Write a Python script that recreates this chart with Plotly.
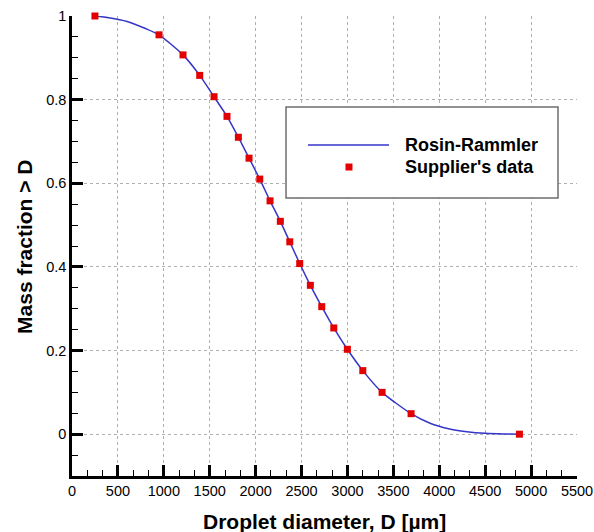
import plotly.graph_objects as go

# Supplier's measured droplet size distribution
diameter_data = [250, 948, 1209, 1391, 1547, 1688, 1812, 1928, 2045, 2157, 2269,
                 2372, 2480, 2596, 2720, 2851, 2999, 3167, 3377, 3693, 4873]
fraction_data = [1.000, 0.955, 0.907, 0.858, 0.807, 0.760, 0.710, 0.660, 0.610, 0.558, 0.509,
                 0.460, 0.408, 0.356, 0.305, 0.254, 0.203, 0.152, 0.100, 0.049, 0.000]

# Rosin-Rammler fitted curve
diameter_fit = [250, 400, 600, 800, 948, 1209, 1391, 1547, 1688, 1812, 1928, 2045, 2157,
                2269, 2372, 2480, 2596, 2720, 2851, 2999, 3167, 3377, 3693, 3900, 4100,
                4300, 4500, 4700, 4873]
fraction_fit = [1.000, 0.996, 0.987, 0.970, 0.955, 0.907, 0.858, 0.807, 0.760, 0.710, 0.660,
                0.610, 0.558, 0.509, 0.460, 0.408, 0.356, 0.305, 0.254, 0.203, 0.152, 0.100,
                0.049, 0.026, 0.013, 0.006, 0.002, 0.0005, 0.000]

x_ticks = list(range(0, 5501, 500))
y_ticks = [0, 0.2, 0.4, 0.6, 0.8, 1.0]

FONT = "Liberation Sans, Arial, sans-serif"
LINE_COLOR = "#3535c8"
MARKER_COLOR = "#e20000"

fig = go.Figure()
fig.add_trace(go.Scatter(
    x=diameter_fit, y=fraction_fit, mode="lines", name="Rosin-Rammler",
    line=dict(color=LINE_COLOR, width=1.5, shape="spline", smoothing=0.6),
    showlegend=False,
))
fig.add_trace(go.Scatter(
    x=diameter_data, y=fraction_data, mode="markers", name="Supplier's data",
    marker=dict(symbol="square", size=7, color=MARKER_COLOR, line=dict(width=0)),
    cliponaxis=False, showlegend=False,
))

axis_common = dict(
    showline=True, linecolor="black", linewidth=2.5, mirror=False,
    ticks="inside", ticklen=11, tickwidth=2.5, tickcolor="black",
    showgrid=True, gridcolor="#b0b0b0", gridwidth=1, griddash="dot",
    zeroline=False, automargin=False,
    tickfont=dict(family=FONT, size=14.5, color="black"),
)

fig.update_xaxes(
    range=[0, 5500], tickvals=x_ticks,
    minor=dict(dtick=500 / 3, tick0=0, ticks="inside", ticklen=6, tickwidth=1,
               tickcolor="black", showgrid=False),
    **axis_common,
)
fig.update_yaxes(
    range=[-0.1, 1.0], tickvals=y_ticks, ticktext=["0", "0.2", "0.4", "0.6", "0.8", "1"],
    minor=dict(dtick=0.05, tick0=0, ticks="inside", ticklen=6, tickwidth=1,
               tickcolor="black", showgrid=False),
    **axis_common,
)

TITLE_FONT = dict(family=FONT, size=21, color="black")
axis_titles = [
    dict(xref="paper", yref="paper", x=0.5, y=-0.098, xanchor="center", yanchor="middle",
         text="<b>Droplet diameter, D [µm]</b>", showarrow=False, font=TITLE_FONT),
    dict(xref="paper", yref="paper", x=-0.093, y=0.498, xanchor="center", yanchor="middle",
         text="<b>Mass fraction > D</b>", showarrow=False, textangle=-90, font=TITLE_FONT),
]

# Legend box drawn in paper coordinates
legend_shapes = [
    dict(type="rect", xref="paper", yref="paper", x0=0.4238, x1=0.9624, y0=0.6043, y1=0.8022,
         line=dict(color="#6e6e6e", width=1.5), fillcolor="white", layer="above"),
    dict(type="line", xref="paper", yref="paper", x0=0.4673, x1=0.6277, y0=0.7196, y1=0.7196,
         line=dict(color=LINE_COLOR, width=1.5), layer="above"),
    dict(type="rect", xref="paper", yref="paper", xsizemode="pixel", ysizemode="pixel",
         xanchor=0.5485, yanchor=0.6717, x0=-3.5, x1=3.5, y0=-3.5, y1=3.5,
         line=dict(width=0), fillcolor=MARKER_COLOR, layer="above"),
]
LEGEND_FONT = dict(family=FONT, size=18, color="black")
legend_labels = [
    dict(xref="paper", yref="paper", x=0.6554, y=0.7196, xanchor="left", yanchor="middle",
         text="<b>Rosin-Rammler</b>", showarrow=False, font=LEGEND_FONT),
    dict(xref="paper", yref="paper", x=0.6554, y=0.6717, xanchor="left", yanchor="middle",
         text="<b>Supplier's data</b>", showarrow=False, font=LEGEND_FONT),
]

fig.update_layout(
    width=594, height=532,
    margin=dict(l=72, r=17, t=16, b=56),
    paper_bgcolor="white", plot_bgcolor="white",
    shapes=legend_shapes, annotations=axis_titles + legend_labels,
    showlegend=False,
)

fig.write_html("out.html")
